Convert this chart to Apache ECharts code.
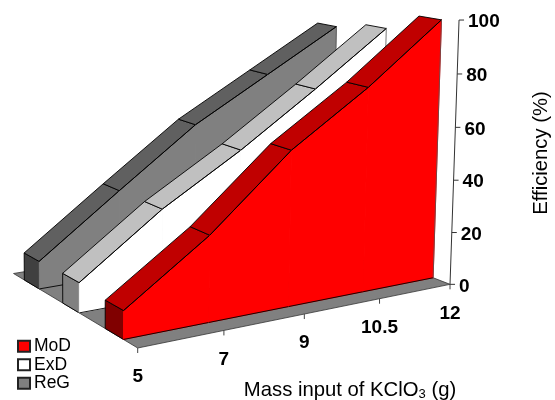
<!DOCTYPE html>
<html>
<head>
<meta charset="utf-8">
<style>html,body{margin:0;padding:0;background:#fff}#c{width:555px;height:400px}</style>
<script src="https://cdn.jsdelivr.net/npm/echarts@6/dist/echarts.min.js"></script>
</head>
<body>
<div id="c"></div>
<script>
const categories = ['5', '7', '9', '10.5', '12'];
const valueTicks = [0, 20, 40, 60, 80, 100];
const MoD = [10, 31, 57, 76.5, 99];
const ExD = [11, 33, 51, 71, 92];
const ReG = [10.5, 33, 55, 72, 89];

// Perspective camera fitted to the picture: vanishing points and weights
const CAM = {
  o: [137.7, 348], vx: [2625, -159], vz: [-739, -178], vy: [95, 10700],
  gx: 0.0359, gz: 0.055, gy: -0.000283
};
function project(X, Y, Z) {
  const c = CAM;
  const a = c.gx * X, b = c.gy * Y, d = c.gz * Z, den = 1 + a + b + d;
  return [0, 1].map(k => (c.o[k] + a * c.vx[k] + b * c.vy[k] + d * c.vz[k]) / den);
}
// The hidden cartesian grid supplies the scales
const GRID = { left: 100, top: 100, width: 400, height: 100 };
const toWorld = p => [(p[0] - GRID.left) / GRID.width * (categories.length - 1),
                      (GRID.top + GRID.height - p[1]) / GRID.height * 100];

const EDGE = '#000';
function ribbon(name, values, zFront, zBack, front, top, side) {
  return {
    type: 'custom', name, coordinateSystem: 'cartesian2d',
    itemStyle: { color: front, borderColor: '#222', borderWidth: 0.7 },
    data: values.map((v, i) => [i, v]),
    clip: false, silent: true,
    renderItem(params, api) {
      const i = params.dataIndex, children = [];
      const [X0, Y0] = toWorld(api.coord([i, values[i]]));
      if (i === 0) {
        children.push({ type: 'polygon', shape: { points: [
          project(X0, 0, zFront), project(X0, Y0, zFront), project(X0, Y0, zBack), project(X0, 0, zBack)
        ] }, style: { fill: side, stroke: EDGE, lineWidth: 0.9 } });
      }
      if (i < values.length - 1) {
        const [X1, Y1] = toWorld(api.coord([i + 1, values[i + 1]]));
        const fa = project(X0, Y0, zFront), fb = project(X1, Y1, zFront);
        const ga = project(X0, 0, zFront), gb = project(X1, 0, zFront);
        children.push({ type: 'polygon', shape: { points: [ga, fa, fb, gb] },
          style: { fill: front, stroke: front, lineWidth: 1 } });
        children.push({ type: 'polygon', shape: { points: [fa, fb, project(X1, Y1, zBack), project(X0, Y0, zBack)] },
          style: { fill: top, stroke: EDGE, lineWidth: 0.9 } });
        children.push({ type: 'line', shape: { x1: ga[0], y1: ga[1], x2: gb[0], y2: gb[1] },
          style: { stroke: EDGE, lineWidth: 0.9 } });
        children.push({ type: 'line', shape: { x1: fa[0], y1: fa[1], x2: fb[0], y2: fb[1] },
          style: { stroke: EDGE, lineWidth: 0.9 } });
      } else {
        const a = project(X0, 0, zFront), b = project(X0, Y0, zFront);
        children.push({ type: 'line', shape: { x1: a[0], y1: a[1], x2: b[0], y2: b[1] },
          style: { stroke: '#555', lineWidth: 0.8 } });
      }
      return { type: 'group', children };
    }
  };
}

const floorSeries = {
  type: 'custom', name: 'floor', coordinateSystem: 'cartesian2d', clip: false, silent: true,
  data: [[0, 0]],
  renderItem(params, api) {
    const Xend = toWorld(api.coord([categories.length - 1, 0]))[0];
    return { type: 'polygon', shape: { points: [
      project(0, 0, 0), project(Xend, 0, 0), project(Xend, 0, 3), project(0, 0, 3)
    ] }, style: { fill: '#808080', stroke: '#333', lineWidth: 0.8 } };
  }
};

const labelFont = 'bold 19px "Liberation Sans", Arial, sans-serif';
const xAxisSeries = {
  type: 'custom', name: 'xTicks', coordinateSystem: 'cartesian2d', clip: false, silent: true,
  data: categories.map((c, i) => [i, 0]),
  renderItem(params, api) {
    const X = toWorld(api.coord([params.dataIndex, 0]))[0];
    const p = project(X, 0, 0);
    return { type: 'group', children: [
      { type: 'line', shape: { x1: p[0], y1: p[1], x2: p[0], y2: p[1] + 5 }, style: { stroke: '#444', lineWidth: 1 } },
      { type: 'text', x: p[0], y: p[1] + 29, style: { text: categories[params.dataIndex], font: labelFont, fill: '#000', align: 'center', verticalAlign: 'middle' } }
    ] };
  }
};
const yAxisSeries = {
  type: 'custom', name: 'yTicks', coordinateSystem: 'cartesian2d', clip: false, silent: true,
  data: valueTicks.map(v => [0, v]),
  renderItem(params, api) {
    const v = valueTicks[params.dataIndex];
    const w = toWorld(api.coord([categories.length - 1, v]));
    const p = project(w[0], w[1], 0);
    const children = [
      { type: 'line', shape: { x1: p[0], y1: p[1], x2: p[0] + 5, y2: p[1] }, style: { stroke: '#333', lineWidth: 1 } },
      { type: 'text', x: p[0] + 9, y: p[1] + 2, style: { text: String(v), font: labelFont, fill: '#000', align: 'left', verticalAlign: 'middle' } }
    ];
    if (params.dataIndex === 0) {
      const top = toWorld(api.coord([categories.length - 1, 100]));
      const q = project(top[0], top[1], 0);
      children.push({ type: 'line', shape: { x1: p[0], y1: p[1], x2: q[0], y2: q[1] }, style: { stroke: '#333', lineWidth: 1 } });
    }
    return { type: 'group', children };
  }
};

const chart = echarts.init(document.getElementById('c'), null, { renderer: 'canvas' });
chart.setOption({
  animation: false,
  backgroundColor: '#fff',
  grid: GRID,
  xAxis: { type: 'category', data: categories, boundaryGap: false, show: false },
  yAxis: { type: 'value', min: 0, max: 100, interval: 20, show: false },
  legend: {
    orient: 'vertical', left: 17, top: 337, itemWidth: 12, itemHeight: 11, itemGap: 0,
    padding: 0, selectedMode: false, icon: 'rect',
    data: ['MoD', 'ExD', 'ReG'],
    textStyle: { fontFamily: '"Liberation Sans", Arial, sans-serif', fontSize: 17.5, lineHeight: 18.5, color: '#000', padding: [0, 0, 0, -1] }
  },
  graphic: [
    { type: 'text', x: 350, y: 390, silent: true, style: {
      text: 'Mass input of KClO{s|3} (g)', align: 'center', verticalAlign: 'middle',
      font: '20.3px "Liberation Sans", Arial, sans-serif', fill: '#000',
      rich: { s: { fontSize: 13, verticalAlign: 'bottom', padding: [8, 0, 0, 0], fontFamily: '"Liberation Sans", Arial, sans-serif' } }
    } },
    { type: 'text', x: 541, y: 153, rotation: Math.PI / 2, silent: true, style: {
      text: 'Efficiency (%)', align: 'center', verticalAlign: 'middle',
      font: '20.3px "Liberation Sans", Arial, sans-serif', fill: '#000'
    } }
  ],
  series: [
    floorSeries,
    ribbon('ReG', ReG, 2.3, 2.7, '#808080', '#606060', '#404040'),
    ribbon('ExD', ExD, 1.3, 1.7, '#ffffff', '#c0c0c0', '#808080'),
    ribbon('MoD', MoD, 0.3, 0.7, '#ff0000', '#c00000', '#800000'),
    xAxisSeries,
    yAxisSeries
  ]
});
</script>
</body>
</html>
